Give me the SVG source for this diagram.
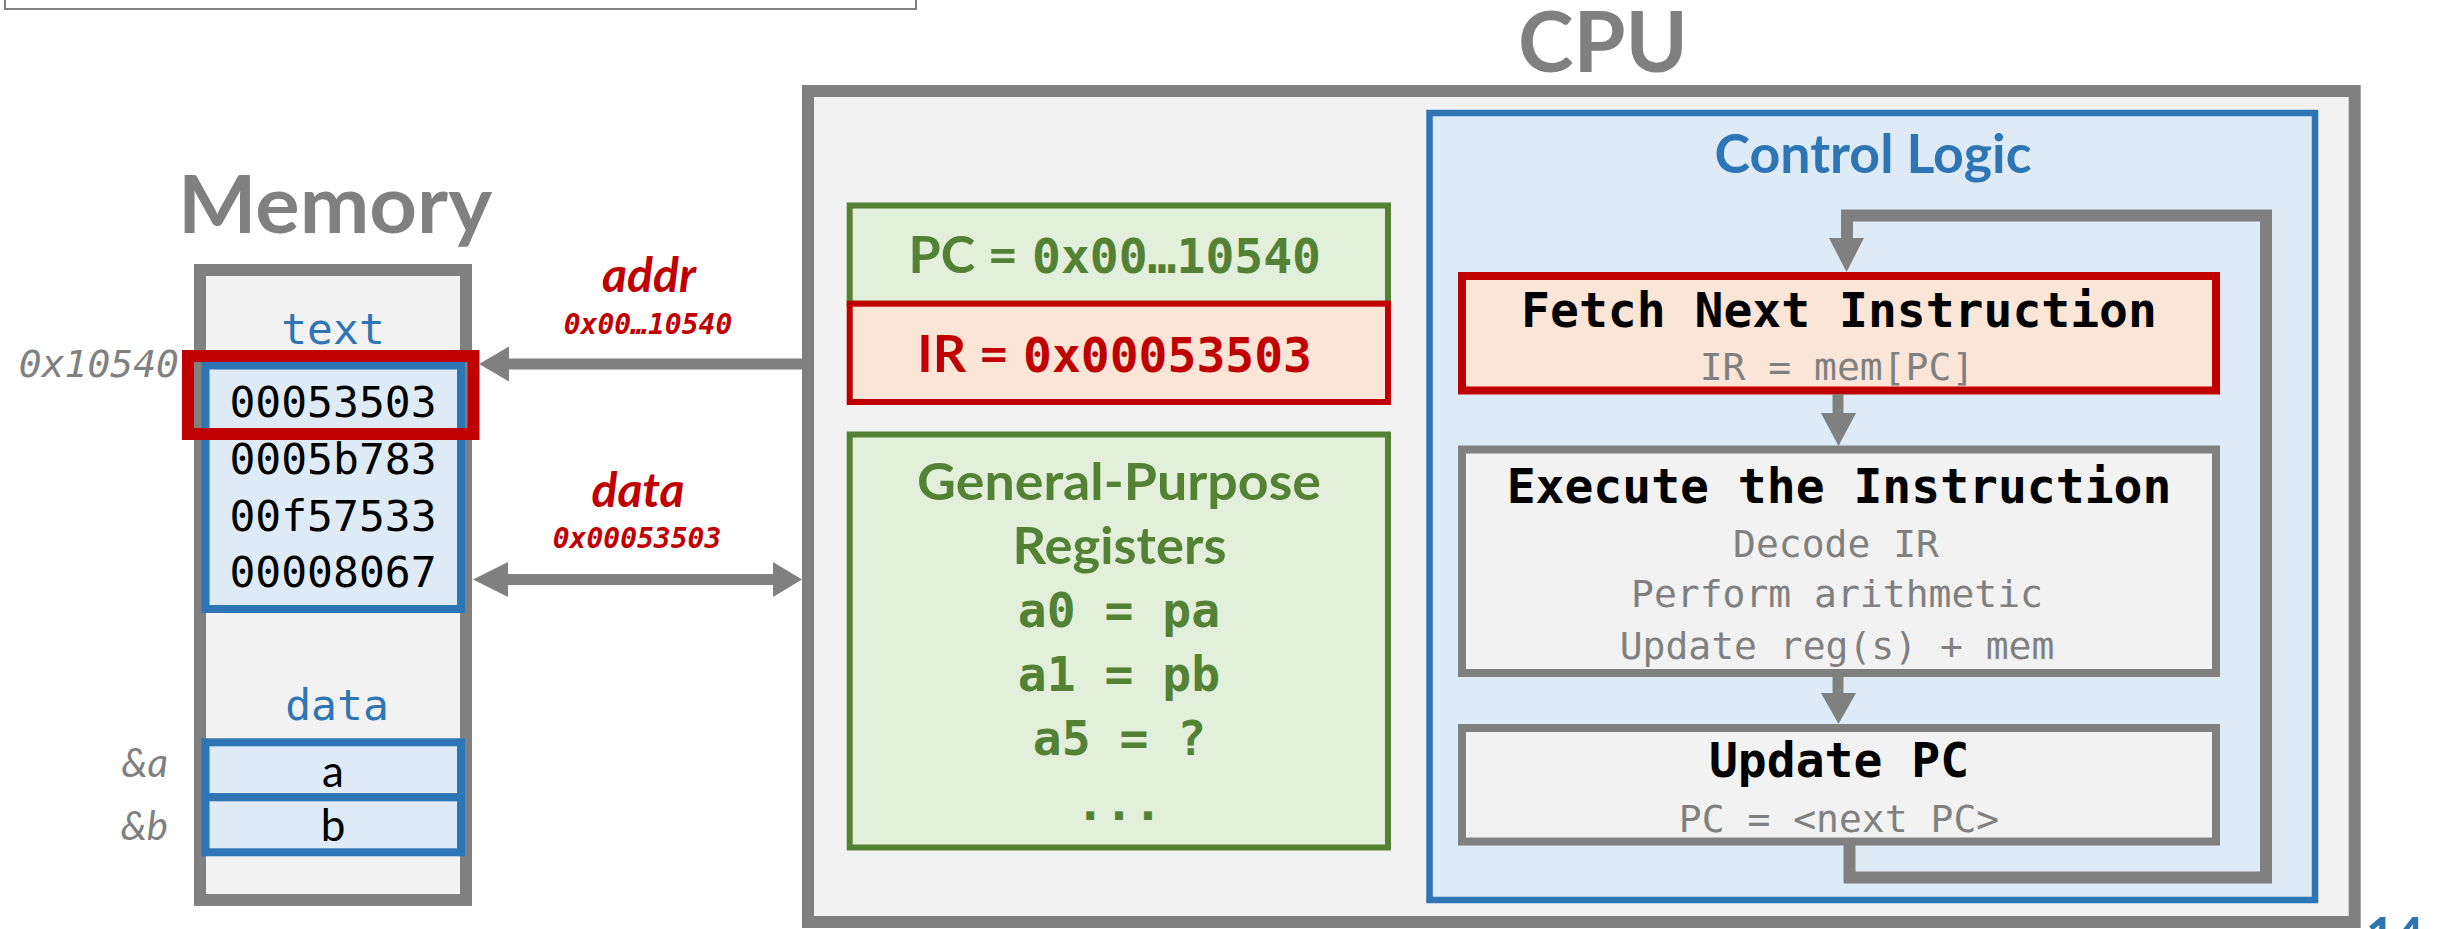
<svg xmlns="http://www.w3.org/2000/svg" width="2440" height="929" viewBox="0 0 2440 929">
<defs>
<style>
.mono{font-family:"DejaVu Sans Mono","Liberation Mono",monospace}
.sans{font-family:Lato,"Open Sans","Liberation Sans",sans-serif}
.b{font-weight:bold}
.it{font-style:italic}
.mid{text-anchor:middle}
.end{text-anchor:end}
.gray{fill:#808080}
.blue{fill:#2e75b6}
.red{fill:#c00000}
.green{fill:#548235}
.blk{fill:#000000}
.line{fill:none;stroke:#808080}
.head{fill:#808080}
</style>
</defs>
<rect width="2440" height="929" fill="#ffffff"/>

<g id="topbox">
<rect x="5" y="-20" width="911" height="29" fill="#ffffff" stroke="#808080" stroke-width="2"/>
</g>

<g id="memory">
<text class="sans b gray mid" x="335" y="233" font-size="81" textLength="314" lengthAdjust="spacingAndGlyphs">Memory</text>
<rect x="200" y="270" width="266" height="630" fill="#f2f2f2" stroke="#808080" stroke-width="12"/>
<text class="mono blue mid" x="333" y="344" font-size="43">text</text>
<rect x="205.5" y="365.5" width="255.5" height="243.5" fill="#deebf7" stroke="#2e75b6" stroke-width="8"/>
<text class="mono blk mid" x="333" y="417" font-size="43">00053503</text>
<text class="mono blk mid" x="333" y="474" font-size="43">0005b783</text>
<text class="mono blk mid" x="333" y="531" font-size="43">00f57533</text>
<text class="mono blk mid" x="333" y="587" font-size="43">00008067</text>
<rect x="188" y="356" width="285.5" height="78" fill="none" stroke="#c00000" stroke-width="12"/>
<text class="mono it gray end" x="179" y="377" font-size="38">0x10540</text>
<text class="mono blue mid" x="337" y="720" font-size="43">data</text>
<rect x="205.5" y="742.3" width="255.5" height="55" fill="#deebf7" stroke="#2e75b6" stroke-width="8"/>
<rect x="205.5" y="797.3" width="255.5" height="55" fill="#deebf7" stroke="#2e75b6" stroke-width="8"/>
<text class="sans blk mid" x="333" y="787" font-size="44">a</text>
<text class="sans blk mid" x="333" y="840.5" font-size="44">b</text>
<text class="sans it gray end" x="168" y="777" font-size="40">&amp;a</text>
<text class="sans it gray end" x="168" y="839.5" font-size="40">&amp;b</text>
</g>

<g id="bus-labels">
<text class="sans b it red mid" x="649" y="292" font-size="48">addr</text>
<text class="mono b it red mid" x="648" y="334" font-size="28">0x00…10540</text>
<text class="sans b it red mid" x="638" y="507" font-size="48">data</text>
<text class="mono b it red mid" x="637" y="548" font-size="28">0x00053503</text>
</g>

<g id="cpu">
<text class="sans b gray mid" x="1603" y="72" font-size="84">CPU</text>
<rect x="808" y="91" width="1546.7" height="831" fill="#f2f2f2" stroke="#808080" stroke-width="12"/>
</g>

<g id="pc">
<rect x="849.7" y="205.5" width="538.3" height="98.2" fill="#e2efda" stroke="#548235" stroke-width="6"/>
<text class="sans b green end" x="1018" y="272.7" font-size="52">PC =</text>
<text class="mono b green" x="1032" y="272.7" font-size="48">0x00…10540</text>
</g>

<g id="ir">
<rect x="849.7" y="303.7" width="538.3" height="98.3" fill="#fbe5d6" stroke="#c00000" stroke-width="6"/>
<text class="sans b red end" x="1009" y="371.7" font-size="52">IR =</text>
<text class="mono b red" x="1023" y="371.7" font-size="48">0x00053503</text>
</g>

<g id="registers">
<rect x="849.7" y="434.5" width="538.3" height="413" fill="#e2efda" stroke="#548235" stroke-width="6"/>
<text class="sans b green mid" x="1119" y="500" font-size="52" textLength="404" lengthAdjust="spacingAndGlyphs">General-Purpose</text>
<text class="sans b green mid" x="1119.5" y="564" font-size="52" textLength="214" lengthAdjust="spacingAndGlyphs">Registers</text>
<text class="mono b green mid" x="1119" y="627" font-size="48" xml:space="preserve">a0 = pa</text>
<text class="mono b green mid" x="1119" y="691" font-size="48" xml:space="preserve">a1 = pb</text>
<text class="mono b green mid" x="1119.5" y="755" font-size="48" xml:space="preserve">a5 = ?</text>
<text class="mono b green mid" x="1119" y="820" font-size="48">...</text>
</g>

<g id="control-logic">
<rect x="1429.5" y="113" width="885.5" height="787" fill="#deebf7" stroke="#2e75b6" stroke-width="6.5"/>
<text class="sans b blue mid" x="1873" y="173" font-size="53" textLength="317" lengthAdjust="spacingAndGlyphs">Control Logic</text>
</g>

<g id="fetch">
<rect x="1462" y="276" width="754" height="114.5" fill="#fbe5d6" stroke="#c00000" stroke-width="8"/>
<text class="mono b blk mid" x="1839" y="326.7" font-size="48">Fetch Next Instruction</text>
<text class="mono gray mid" x="1837" y="380" font-size="38">IR = mem[PC]</text>
</g>

<g id="execute">
<rect x="1462" y="449.5" width="754" height="223.5" fill="#f2f2f2" stroke="#808080" stroke-width="8"/>
<text class="mono b blk mid" x="1839" y="502.7" font-size="48">Execute the Instruction</text>
<text class="mono gray mid" x="1836" y="556.7" font-size="38">Decode IR</text>
<text class="mono gray mid" x="1837" y="607.3" font-size="38">Perform arithmetic</text>
<text class="mono gray mid" x="1837" y="659.3" font-size="38">Update reg(s) + mem</text>
</g>

<g id="update-pc">
<rect x="1462" y="728" width="754" height="113.5" fill="#f2f2f2" stroke="#808080" stroke-width="8"/>
<text class="mono b blk mid" x="1839" y="777.3" font-size="48">Update PC</text>
<text class="mono gray mid" x="1839" y="831.5" font-size="38">PC = &lt;next PC&gt;</text>
</g>

<g id="connectors">
<line class="line" x1="808" y1="364" x2="507" y2="364" stroke-width="11"/>
<polygon class="head" points="479,364 509,346.5 509,381.5"/>
<line class="line" x1="506" y1="579.5" x2="775" y2="579.5" stroke-width="11"/>
<polygon class="head" points="473,579.5 508,562 508,597"/>
<polygon class="head" points="802,579.5 773,562 773,597"/>
<line class="line" x1="1838" y1="394" x2="1838" y2="415" stroke-width="11"/>
<polygon class="head" points="1821,413 1856,413 1838.5,446"/>
<line class="line" x1="1838" y1="677" x2="1838" y2="695" stroke-width="11"/>
<polygon class="head" points="1821,693 1856,693 1838.5,724"/>
<path class="line" d="M1849.5,845 V877.5 H2266 V215.5 H1847 V240" stroke-width="12" stroke-linejoin="miter"/>
<polygon class="head" points="1829,238 1864,238 1846.5,272"/>
</g>

<g id="page-number">
<text class="sans b blue" x="2366" y="953" font-size="50">14</text>
</g>
</svg>
